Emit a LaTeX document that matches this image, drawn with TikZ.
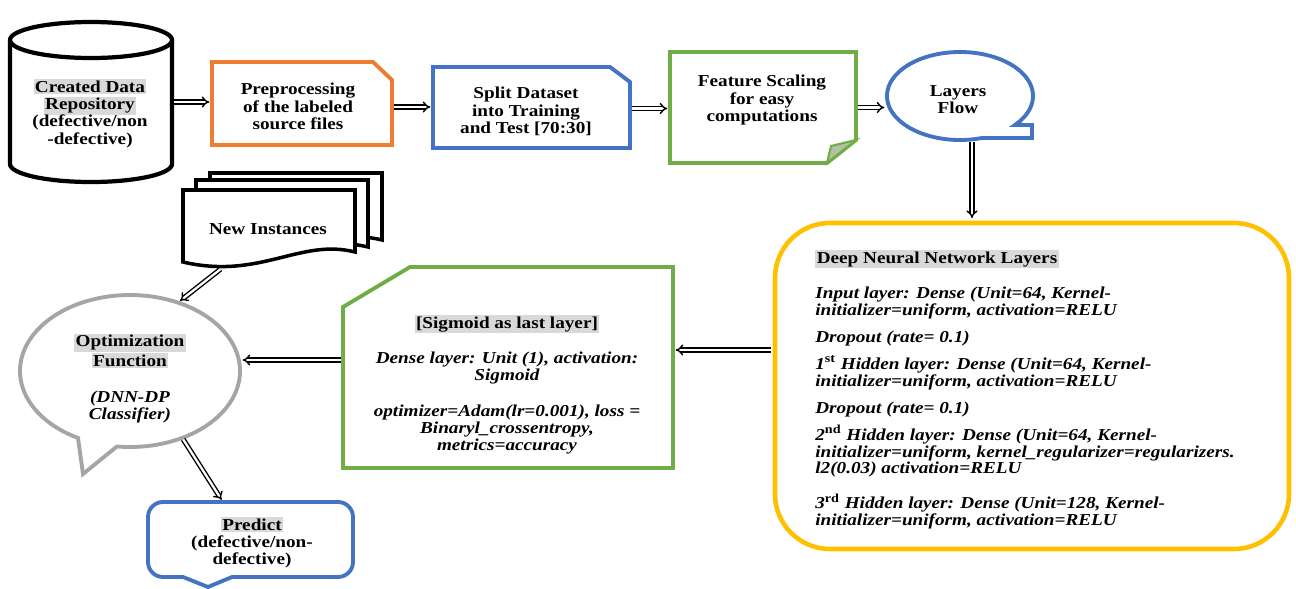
\documentclass[tikz,border=0pt]{standalone}
\usepackage{fontspec}
\setmainfont{Liberation Serif}[FakeStretch=1.15]
\usetikzlibrary{arrows.meta,shapes.geometric}
\definecolor{prepOrange}{HTML}{ED7D31}
\definecolor{flowBlue}{HTML}{4472C4}
\definecolor{leafGreen}{HTML}{70AD47}
\definecolor{layerGold}{HTML}{FFC000}
\definecolor{bubbleGray}{HTML}{A5A5A5}
\definecolor{markGray}{HTML}{D9D9D9}
\newcommand{\marked}[1]{{\setlength{\fboxsep}{0.8pt}\colorbox{markGray}{#1}}}
\newcommand{\ordsup}[1]{\smash{\textsuperscript{\upshape\scriptsize #1}}}
\begin{document}
\begin{tikzpicture}[x=0.2mm, y=-0.2mm,
  txt/.style={font=\fontsize{9.5}{9.8}\selectfont\bfseries, align=center, inner sep=0pt},
  itxt/.style={font=\fontsize{9.5}{9.65}\selectfont\bfseries\itshape, inner sep=0pt},
  holder/.style={inner sep=0pt, outer sep=0pt},
  outline/.style={line width=2.2pt},
  flow/.style={draw=black, line width=0.8pt, double=white, double distance=1.3pt,
    -{Implies}, shorten >=1.5pt, shorten <=1pt},
]
\useasboundingbox (0,0) rectangle (1296,588);

% ---------- data repository (cylinder) ----------
\draw[line width=2.4pt, fill=white] (10,40) -- (10,164)
  arc[start angle=180, end angle=360, x radius=16.2mm, y radius=3.6mm] -- (172,40);
\draw[line width=2.4pt] (91,40) ellipse[x radius=16.2mm, y radius=3.6mm];
\node[holder, minimum width=32.4mm, minimum height=32mm] (cyl) at (91,102) {};
\node[txt] (cyltxt) at (90,113.5)
  {\marked{Created Data}\\\marked{Repository}\\(defective/non\\-defective)};

% ---------- preprocessing ----------
\draw[outline, prepOrange] (212,62) -- (373,62) -- (392,80) -- (392,145) -- (212,145) -- cycle;
\node[holder, minimum width=36mm, minimum height=16.6mm] (pre) at (302,103.5) {};
\node[txt] (pretxt) at (298,106.5) {Preprocessing\\of the labeled\\source files};

% ---------- split dataset ----------
\draw[outline, flowBlue] (433,67) -- (610,67) -- (630,82) -- (630,148) -- (433,148) -- cycle;
\node[holder, minimum width=39.4mm, minimum height=16.2mm] (split) at (531.5,108.5) {};
\node[txt] (splittxt) at (526,111.5) {Split Dataset\\into Training\\and Test [70:30]};

% ---------- feature scaling (note with folded corner) ----------
\draw[outline, leafGreen] (670,52) -- (856,52) -- (856,140) -- (827,163) -- (670,163) -- cycle;
\draw[line width=1.2pt, leafGreen, fill=leafGreen!45!bubbleGray!70] (856,140) -- (831,146) -- (827,163) -- cycle;
\node[holder, minimum width=37.2mm, minimum height=22.2mm] (feat) at (763,107.5) {};
\node[txt] (feattxt) at (762,100) {Feature Scaling\\for easy\\computations};

% ---------- layers flow (callout) ----------
\draw[outline, flowBlue] plot[domain=41:-287.5, samples=120]
  ({960+73*cos(\x)},{96+44*sin(\x)}) -- (1032,138) -- (1032,125) -- cycle;
\node[holder, ellipse, minimum width=29.2mm, minimum height=17.6mm] (lf) at (960,96) {};
\node[txt] (lftxt) at (958,99.5) {Layers\\Flow};

% ---------- deep neural network layers ----------
\node[draw=layerGold, line width=2.6pt, rounded corners=11mm,
  minimum width=102.8mm, minimum height=65.2mm] (dnn) at (1032,386) {};
\node[itxt, align=left, anchor=north west] (dnntxt) at (815,250) {%
  \marked{\upshape Deep Neural Network Layers}\\[3.6mm]
  Input layer: Dense (Unit=64, Kernel-\\
  initializer=uniform, activation=RELU\\[2mm]
  Dropout (rate= 0.1)\\[2mm]
  1\ordsup{st} Hidden layer: Dense (Unit=64, Kernel-\\
  initializer=uniform, activation=RELU\\[2mm]
  Dropout (rate= 0.1)\\[2mm]
  2\ordsup{nd} Hidden layer: Dense (Unit=64, Kernel-\\
  initializer=uniform, kernel\_regularizer=regularizers.\\
  l2(0.03) activation=RELU\\[3.6mm]
  3\ordsup{rd} Hidden layer: Dense (Unit=128, Kernel-\\
  initializer=uniform, activation=RELU};

% ---------- sigmoid output layer ----------
\draw[outline, leafGreen] (410,267) -- (673,267) -- (673,468) -- (343,468) -- (343,307) -- cycle;
\node[holder, minimum width=66mm, minimum height=40.2mm] (sig) at (508,367.5) {};
\node[itxt, align=center, anchor=north] (sigtxt) at (507,315) {%
  \marked{\upshape [Sigmoid as last layer]}\\[3.7mm]
  Dense layer: Unit (1), activation:\\
  Sigmoid\\[3.7mm]
  optimizer=Adam(lr=0.001), loss =\\
  Binaryl\_crossentropy,\\
  metrics=accuracy};

% ---------- new instances (stacked documents) ----------
\draw[line width=2pt, fill=white] (210,173) -- (382,173) -- (382,240)
  .. controls (327,226) and (287,268) .. (210,250) -- cycle;
\draw[line width=2pt, fill=white] (196,180) -- (368,180) -- (368,247)
  .. controls (313,233) and (273,275) .. (196,257) -- cycle;
\draw[line width=2pt, fill=white] (183,190) -- (355,190) -- (355,252)
  .. controls (300,238) and (260,280) .. (183,262) -- cycle;
\node[holder, minimum width=34.4mm, minimum height=14.4mm] (ni) at (269,226) {};
\node[txt] (nitxt) at (268,229) {New Instances};

% ---------- optimization function (callout) ----------
\draw[line width=2.2pt, bubbleGray] plot[domain=96.8:-241.8, samples=150]
  ({130+110*cos(\x)},{371+76*sin(\x)}) -- (83,474) -- cycle;
\node[holder, ellipse, minimum width=44mm, minimum height=30.4mm] (opt) at (130,371) {};
\node[txt] (opttxt) at (130,378.5)
  {\marked{Optimization}\\\marked{Function}\\[3.8mm]\itshape (DNN-DP\\\itshape Classifier)};

% ---------- prediction ----------
\draw[outline, flowBlue] (208,587) -- (183,577)
  {[rounded corners=3mm] -- (148,577) -- (148,502) -- (353,502) -- (353,577)}
  -- (232,577) -- cycle;
\node[holder, minimum width=41mm, minimum height=15mm] (pred) at (250.5,539.5) {};
\node[txt] (predtxt) at (252,542.5) {\marked{Predict}\\(defective/non-\\defective)};

% ---------- connectors ----------
\draw[flow] (cyl.east) -- (cyl.east -| pre.west);
\draw[flow] ([yshift=-0.7mm]pre.east) -- ([yshift=-0.7mm]pre.east -| split.west);
\draw[flow] (split.east) -- (split.east -| feat.west);
\draw[flow] (feat.east) -- (feat.east -| lf.west);
\draw[flow] ([xshift=2.4mm]lf.south) -- ([xshift=2.4mm]lf.south |- dnn.north);
\draw[flow] ([yshift=7.2mm]dnn.west) -- ([yshift=7.2mm]dnn.west -| sig.east);
\draw[flow] ([yshift=1.5mm]sig.west) -- ([yshift=1.5mm]sig.west -| opt.east);
\draw[flow] ([shift={(39,6)}]ni.south west) -- (opt.55);
\draw[flow] (opt.-52) -- ([xshift=15mm]pred.north west);
\end{tikzpicture}
\end{document}
